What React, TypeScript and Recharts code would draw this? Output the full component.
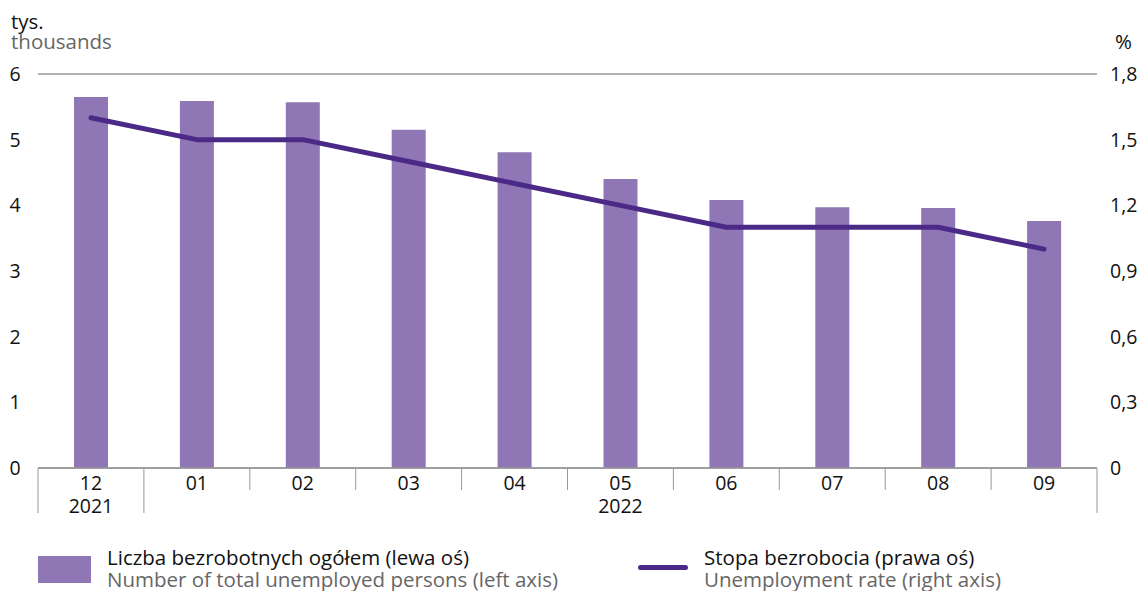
import React from 'react';
import { ComposedChart, Bar, Line, XAxis, YAxis, CartesianGrid } from 'recharts';

const months = ['12', '01', '02', '03', '04', '05', '06', '07', '08', '09'];
const years = ['2021', '', '', '', '', '2022', '', '', '', ''];
const unemployed = [5.65, 5.59, 5.57, 5.15, 4.81, 4.4, 4.08, 3.97, 3.96, 3.76];
const rate = [1.6, 1.5, 1.5, 1.4, 1.3, 1.2, 1.1, 1.1, 1.1, 1.0];
const leftTicks = [0, 1, 2, 3, 4, 5, 6];
const rightTicks = [0, 0.3, 0.6, 0.9, 1.2, 1.5, 1.8];

const data = months.map((m, i) => ({ month: m, year: years[i], unemployed: unemployed[i], rate: rate[i] }));

const FONT = "'Open Sans', 'Noto Sans', sans-serif";
const BAR = '#8f77b5';
const LINE = '#4b2a87';
const GRID = '#999999';
const BAND = 1059 / 10;
const TICK_FS = 19.5;
const TXT_FS = 20.5;

const XTick = (props: any) => {
  const { x, payload, index } = props;
  const i = index ?? payload.index;
  const left = x - BAND / 2;
  const right = x + BAND / 2;
  const longLeft = i === 0 || i === 1;
  const isLast = i === months.length - 1;
  return (
    <g>
      <line x1={left} y1={468} x2={left} y2={longLeft ? 513 : 490} stroke={GRID} strokeWidth={1} />
      {isLast && <line x1={right} y1={468} x2={right} y2={513} stroke={GRID} strokeWidth={1} />}
      <text x={x} y={490} textAnchor="middle" fontSize={TICK_FS} fill="#111" fontFamily={FONT}>{payload.value}</text>
      {years[i] && (
        <text x={x} y={513} textAnchor="middle" fontSize={TICK_FS} fill="#111" fontFamily={FONT}>{years[i]}</text>
      )}
    </g>
  );
};

const LeftTick = (props: any) => {
  const { y, payload } = props;
  return (
    <text x={15} y={y + 7} textAnchor="middle" fontSize={TICK_FS} fill="#111" fontFamily={FONT}>{payload.value}</text>
  );
};

const RightTick = (props: any) => {
  const { y, payload } = props;
  const label = payload.value === 0 ? '0' : payload.value.toFixed(1).replace('.', ',');
  return (
    <text x={1110} y={y + 7} textAnchor="start" fontSize={TICK_FS} fill="#111" fontFamily={FONT}>{label}</text>
  );
};

const lineStyle: React.CSSProperties = {
  position: 'absolute',
  fontSize: TXT_FS,
  lineHeight: `${TXT_FS}px`,
  whiteSpace: 'nowrap',
};

export default function App() {
  return (
    <div style={{ position: 'absolute', left: 0, top: 0, width: 1141, height: 591, background: '#fff', fontFamily: FONT, overflow: 'hidden' }}>
      <ComposedChart
        width={1141}
        height={591}
        data={data}
        margin={{ top: 74, right: 0, left: 0, bottom: 0 }}
        barCategoryGap={0}
      >
        <CartesianGrid horizontal vertical={false} stroke={GRID} strokeWidth={1.5} />
        <XAxis
          dataKey="month"
          axisLine={{ stroke: GRID, strokeWidth: 1.5 }}
          tickLine={false}
          tick={<XTick />}
          height={123}
          interval={0}
        />
        <YAxis
          yAxisId="left"
          orientation="left"
          width={38}
          domain={[0, 6]}
          ticks={leftTicks}
          axisLine={false}
          tickLine={false}
          tick={<LeftTick />}
          interval={0}
        />
        <YAxis
          yAxisId="right"
          orientation="right"
          width={44}
          domain={[0, 1.8]}
          ticks={rightTicks}
          axisLine={false}
          tickLine={false}
          tick={<RightTick />}
          interval={0}
        />
        <Bar yAxisId="left" dataKey="unemployed" fill={BAR} barSize={34} isAnimationActive={false} />
        <Line
          yAxisId="right"
          dataKey="rate"
          stroke={LINE}
          strokeWidth={5}
          dot={false}
          activeDot={false}
          type="linear"
          strokeLinecap="round"
          strokeLinejoin="round"
          isAnimationActive={false}
        />
      </ComposedChart>
      <div style={{ ...lineStyle, left: 11, top: 11, color: '#111' }}>tys.</div>
      <div style={{ ...lineStyle, left: 11, top: 31, color: '#666' }}>thousands</div>
      <div style={{ ...lineStyle, left: 1115, top: 31, color: '#111' }}>%</div>

      <div style={{ position: 'absolute', left: 38, top: 556, width: 53, height: 27, background: BAR }} />
      <div style={{ ...lineStyle, left: 107, top: 547, color: '#111' }}>Liczba bezrobotnych ogółem (lewa oś)</div>
      <div style={{ ...lineStyle, left: 107, top: 569, color: '#666' }}>Number of total unemployed persons (left axis)</div>

      <div style={{ position: 'absolute', left: 638, top: 565, width: 50, height: 5, borderRadius: 3, background: LINE }} />
      <div style={{ ...lineStyle, left: 704, top: 547, color: '#111' }}>Stopa bezrobocia (prawa oś)</div>
      <div style={{ ...lineStyle, left: 704, top: 569, color: '#666' }}>Unemployment rate (right axis)</div>
    </div>
  );
}
